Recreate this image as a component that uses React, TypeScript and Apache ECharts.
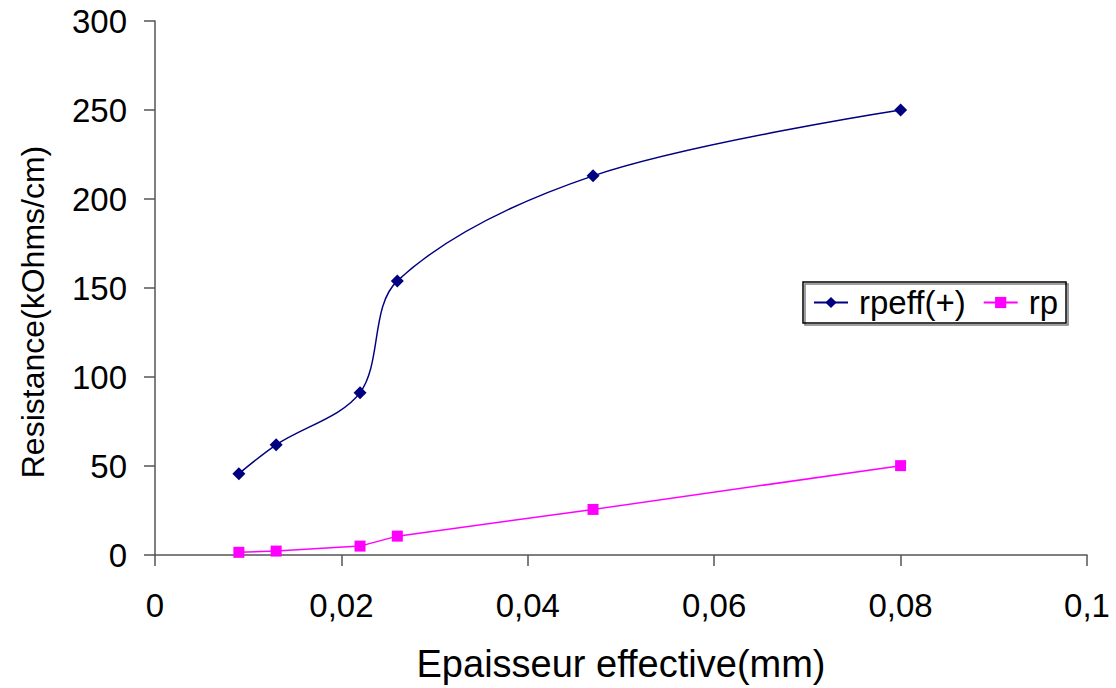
import React, { useEffect, useRef } from "react";
import * as echarts from "echarts";

const thickness = [0.009, 0.013, 0.022, 0.026, 0.047, 0.08];
const rpeff = [45.7, 61.9, 91.2, 154, 213, 250];
const rp = [1.5, 2.2, 5, 10.6, 25.6, 50.2];
const xTicks = [0, 0.02, 0.04, 0.06, 0.08, 0.1];

const font = "'Liberation Sans', Arial, sans-serif";

export default function App() {
  const ref = useRef<HTMLDivElement>(null);
  useEffect(() => {
    const chart = echarts.init(ref.current!, null, { renderer: "svg" });
    chart.setOption({
      animation: false,
      backgroundColor: "#ffffff",
      grid: { left: 155, right: 29, top: 21, bottom: 129 },
      graphic: [
        {
          type: "text",
          x: 33,
          y: 312,
          rotation: Math.PI / 2,
          style: {
            text: "Resistance(kOhms/cm)",
            fontFamily: font,
            fontSize: 32,
            fill: "#000",
            align: "center",
            verticalAlign: "middle",
          },
        },
      ],
      xAxis: {
        type: "value",
        min: 0,
        max: 0.1,
        interval: 0.02,
        name: "Epaisseur effective(mm)",
        nameLocation: "middle",
        nameGap: 90,
        nameTextStyle: { fontFamily: font, fontSize: 38, color: "#000" },
        axisLine: { lineStyle: { color: "#555", width: 1.5 } },
        axisTick: { show: true, inside: false, length: 11, lineStyle: { color: "#555", width: 1.5 } },
        axisLabel: {
          fontFamily: font,
          fontSize: 33,
          color: "#000",
          margin: 34,
          formatter: (v: number) => {
            const t = xTicks.find((x) => Math.abs(x - v) < 1e-9);
            if (t === undefined) return "";
            return String(Number(t.toFixed(2))).replace(".", ",");
          },
        },
        splitLine: { show: false },
      },
      yAxis: {
        type: "value",
        min: 0,
        max: 300,
        interval: 50,
        axisLine: { show: true, lineStyle: { color: "#555", width: 1.5 } },
        axisTick: { show: true, inside: false, length: 11, lineStyle: { color: "#555", width: 1.5 } },
        axisLabel: { fontFamily: font, fontSize: 33, color: "#000", margin: 28 },
        splitLine: { show: false },
      },
      legend: {
        left: 803,
        top: 282,
        orient: "horizontal",
        borderColor: "#000",
        borderWidth: 1.5,
        padding: [4, 8, 4, 10],
        itemGap: 17,
        itemWidth: 34,
        itemHeight: 14,
        textStyle: { fontFamily: font, fontSize: 33, color: "#000", padding: [0, 0, 0, 6] },
        shadowColor: "rgba(0,0,0,0.5)",
        shadowOffsetX: 2,
        shadowOffsetY: 2,
        data: ["rpeff(+)", "rp"],
      },
      series: [
        {
          name: "rpeff(+)",
          type: "line",
          data: thickness.map((x, i) => [x, rpeff[i]]),
          smooth: 0.33,
          symbol: "diamond",
          symbolSize: 13,
          lineStyle: { color: "#000080", width: 1.5 },
          itemStyle: { color: "#000080" },
        },
        {
          name: "rp",
          type: "line",
          data: thickness.map((x, i) => [x, rp[i]]),
          symbol: "rect",
          symbolSize: 11,
          lineStyle: { color: "#ff00ff", width: 1.5 },
          itemStyle: { color: "#ff00ff" },
        },
      ],
    });
    return () => chart.dispose();
  }, []);
  return (
    <div
      ref={ref}
      style={{ position: "fixed", left: 0, top: 0, width: 1116, height: 688 }}
    />
  );
}
